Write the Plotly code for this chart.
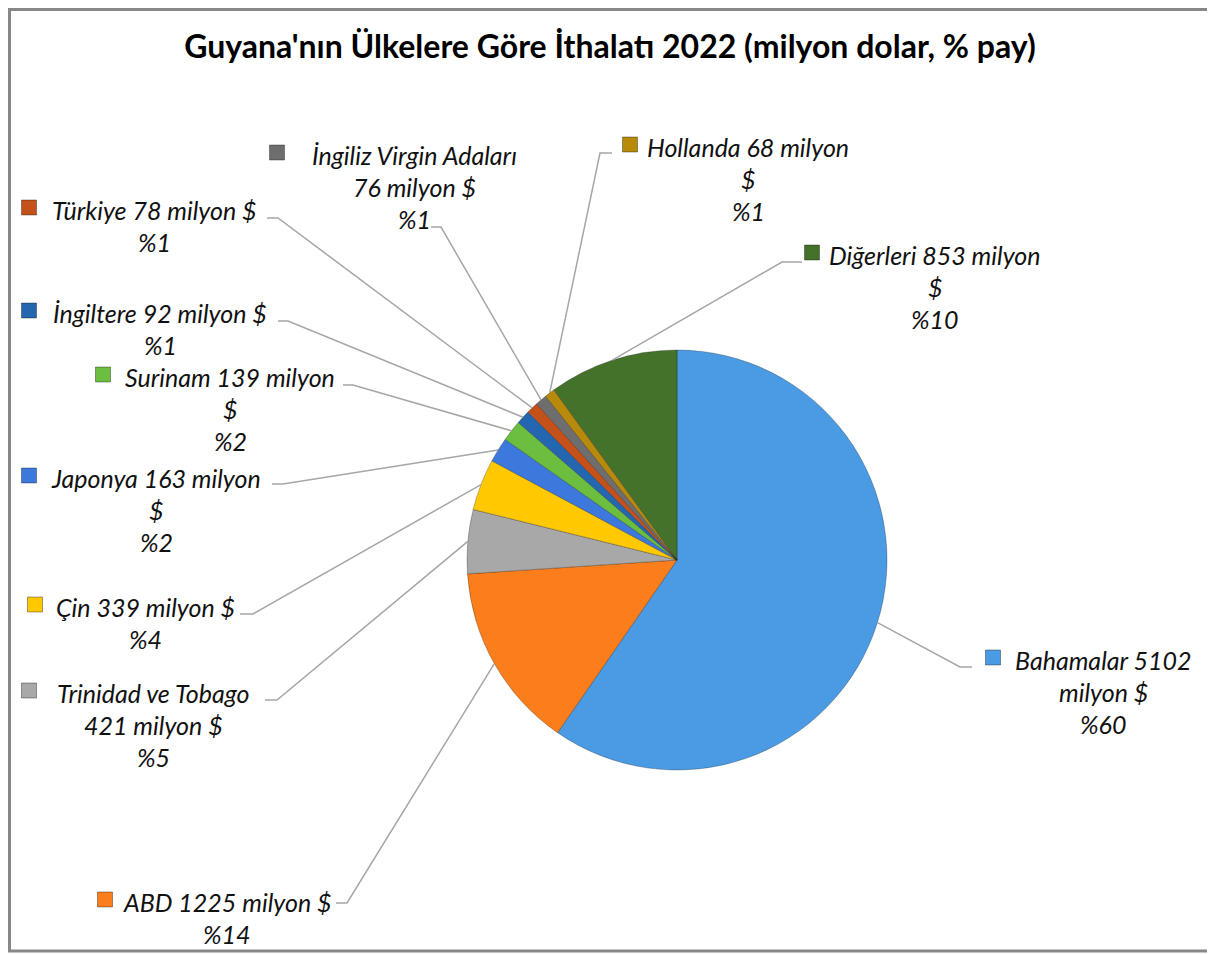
import math
import plotly.graph_objects as go

# veriler
ulkeler = ["Bahamalar", "ABD", "Trinidad ve Tobago", "Çin", "Japonya", "Surinam",
           "İngiltere", "Türkiye", "İngiliz Virgin Adaları", "Hollanda", "Diğerleri"]
degerler = [5102, 1225, 421, 339, 163, 139, 92, 78, 76, 68, 853]
yuzdeler = [60, 14, 5, 4, 2, 2, 1, 1, 1, 1, 10]
renkler = ["#4a9be3", "#fb7d1c", "#a8a8a8", "#ffc800", "#3d78dc", "#6cbf3e",
           "#2566b0", "#c4501a", "#6e6e6e", "#b88a0c", "#45722a"]
# ilk satırdaki kelime sayısı (Excel'deki satır kırılımı)
ilk_satir_kelime = [2, 4, 3, 4, 3, 3, 4, 4, 3, 3, 3]

# sayfa gövdesi 8px kenar boşluğu bırakıyor, koordinatlar pencereye göre
OFF = 8
W, H = 1215 - OFF, 954 - OFF
CX, CY, R = 677, 560, 210

# etiket yerleşimi (piksel): metin merkezi x, ilk satır y, kare x, çizgi y, yatay uç x, dirsek x
ETIKET = [
    (1103, 660, 993, 667, 972, 960),
    (227, 902, 105, 903, 336, 347),
    (153, 693, 29, 700, 265, 277),
    (145, 607, 35, 614, 240, 253),
    (156, 478, 29, 484, 272, 283),
    (230, 377, 103, 385, 343, 353),
    (160, 313, 29, 321, 278, 288),
    (154, 210, 29, 218, 267, 278),
    (414, 155, 277, 227, 431, 441),
    (748, 147, 630, 153, 612, 600),
    (935, 255, 812, 262, 802, 782),
]
SATIR = 32


def px(x):
    return (x - OFF) / W


def py(y):
    return 1 - (y - OFF) / H


fig = go.Figure(go.Pie(
    labels=ulkeler, values=degerler, sort=False, direction="clockwise",
    marker=dict(colors=renkler, line=dict(color="rgba(0,0,0,0.25)", width=1)),
    textinfo="none", hoverinfo="label+value+percent", showlegend=False,
    domain=dict(x=[px(CX - R), px(CX + R)], y=[py(CY + R), py(CY - R)]),
))

toplam = sum(degerler)
kum = 0
for i, (ad, deger) in enumerate(zip(ulkeler, degerler)):
    orta = (kum + deger / 2) / toplam
    kum += deger
    aci = 2 * math.pi * orta
    ex, ey = CX + R * math.sin(aci), CY - R * math.cos(aci)
    tx, ty, sx, ly, hx, dx = ETIKET[i]

    # kılavuz çizgisi
    fig.add_shape(type="path", xref="paper", yref="paper",
                  path=f"M {px(ex)} {py(ey)} L {px(dx)} {py(ly)} L {px(hx)} {py(ly)}",
                  line=dict(color="#a6a6a6", width=1.5))

    # renk karesi
    fig.add_shape(type="rect", xref="paper", yref="paper",
                  x0=px(sx - 7.5), x1=px(sx + 7.5), y0=py(ty - 10), y1=py(ty + 5),
                  fillcolor=renkler[i], line=dict(color="rgba(0,0,0,0.35)", width=1))

    kelimeler = f"{ad} {deger} milyon $".split(" ")
    n = ilk_satir_kelime[i]
    satirlar = [" ".join(kelimeler[:n])]
    if kelimeler[n:]:
        satirlar.append(" ".join(kelimeler[n:]))
    satirlar.append(f"%{yuzdeler[i]}")
    for k, s in enumerate(satirlar):
        fig.add_annotation(x=px(tx), y=py(ty + k * SATIR), xref="paper", yref="paper",
                           text=s, showarrow=False, xanchor="center", yanchor="middle",
                           font=dict(family="Lato", size=25, color="#111111", style="italic"))

# dış çerçeve
fig.add_shape(type="rect", xref="paper", yref="paper",
              x0=px(9.5), x1=px(1212.5), y0=py(951), y1=py(9.5),
              line=dict(color="#878787", width=3))

fig.update_layout(
    width=W, height=H, margin=dict(l=0, r=0, t=0, b=0),
    paper_bgcolor="white", plot_bgcolor="white",
    title=dict(text="<b>Guyana'nın Ülkelere Göre İthalatı 2022 (milyon dolar, % pay)</b>",
               x=px(610), xanchor="center", y=py(47), yanchor="middle", yref="paper",
               font=dict(family="Lato", size=32, color="#000000")),
)

fig.write_html("out.html")
